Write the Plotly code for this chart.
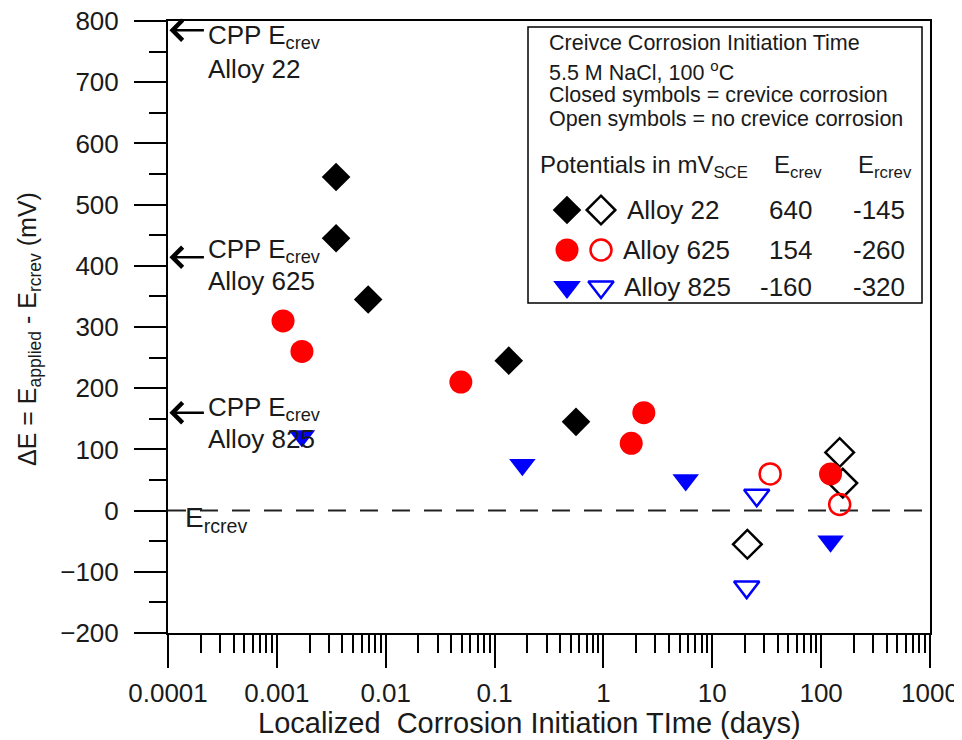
import numpy as np
import plotly.graph_objects as go

# ---------------- data ----------------
alloy22_closed_x = [0.0035, 0.0035, 0.0069, 0.135, 0.56]
alloy22_closed_y = [545, 445, 345, 245, 145]
alloy22_open_x = [21, 148, 158]
alloy22_open_y = [-55, 95, 45]

alloy625_closed_x = [0.00114, 0.0017, 0.049, 1.8, 2.35, 122]
alloy625_closed_y = [310, 260, 210, 110, 160, 60]
alloy625_open_x = [34, 148]
alloy625_open_y = [60, 10]

alloy825_closed_x = [0.0017, 0.18, 5.7, 122]
alloy825_closed_y = [122, 75, 50, -50]
alloy825_open_x = [25.6, 20.7]
alloy825_open_y = [25, -125]

alloy_names = ["Alloy 22", "Alloy 625", "Alloy 825"]
e_crev = [640, 154, -160]
e_rcrev = [-145, -260, -320]

x_tickvals = [1e-4, 1e-3, 1e-2, 1e-1, 1, 10, 100, 1000]
x_ticktext = ["0.0001", "0.001", "0.01", "0.1", "1", "10", "100", "1000"]
y_tickvals = [-200, -100, 0, 100, 200, 300, 400, 500, 600, 700, 800]

FONT = "Liberation Sans, Arial, sans-serif"
TXT = "#1a1a1a"
BLACK = "#000000"
RED = "#ff0000"
BLUE = "#0000ff"

# plot-area frame in screen pixels; the page body adds an 8 px offset
PX_L, PX_R, PX_T, PX_B = 168, 930, 21, 633
W, H = 962, 740
OFF = 8

fig = go.Figure()

def add(x, y, symbol, color, size, open_=False, xa="x", ya="y"):
    if open_:
        marker = dict(symbol=symbol, size=size, color=color,
                      line=dict(color=color, width=2.5))
    else:
        marker = dict(symbol=symbol, size=size, color=color,
                      line=dict(width=0))
    fig.add_trace(go.Scatter(x=x, y=y, mode="markers", marker=marker,
                             xaxis=xa, yaxis=ya, showlegend=False,
                             hoverinfo="skip", cliponaxis=False))

# open symbols first (closed drawn on top)
add(alloy22_open_x, alloy22_open_y, "diamond-open", BLACK, 22, True)
add(alloy625_open_x, alloy625_open_y, "circle-open", RED, 21, True)
add(alloy825_open_x, alloy825_open_y, "triangle-down-open", BLUE, 22, True)
add(alloy22_closed_x, alloy22_closed_y, "diamond", BLACK, 22)
add(alloy625_closed_x, alloy625_closed_y, "circle", RED, 23)
add(alloy825_closed_x, alloy825_closed_y, "triangle-down", BLUE, 23)

# ---------------- legend box (pixel overlay axes) ----------------
row_y = [210, 250, 287]
closed_sym = ["diamond", "circle", "triangle-down"]
open_sym = ["diamond-open", "circle-open", "triangle-down-open"]
closed_size = [22, 23, 24]
open_size = [22, 21, 22]
colors = [BLACK, RED, BLUE]
for i in range(3):
    add([567], [row_y[i]], closed_sym[i], colors[i], closed_size[i],
        False, "x2", "y2")
    add([601], [row_y[i]], open_sym[i], colors[i], open_size[i],
        True, "x2", "y2")

minor_vals = [m * 10.0 ** e for e in range(-4, 3) for m in range(2, 10)]

annotations = []

def txt(x, y, text, size, xanchor="left", yanchor="middle", angle=0):
    annotations.append(dict(x=x, y=y, xref="x2", yref="y2", text=text,
                            showarrow=False, xanchor=xanchor, yanchor=yanchor,
                            textangle=angle,
                            font=dict(family=FONT, size=size, color=TXT)))

def ptxt(px, py, text, size, xanchor="center", angle=0):
    annotations.append(dict(x=(px - PX_L) / (PX_R - PX_L),
                            y=(PX_B - py) / (PX_B - PX_T),
                            xref="paper", yref="paper", text=text,
                            showarrow=False, xanchor=xanchor, yanchor="middle",
                            textangle=angle,
                            font=dict(family=FONT, size=size, color=TXT)))

# legend texts
txt(547, 43, "Creivce Corrosion Initiation Time", 21.5)
txt(547, 71, "5.5 M NaCl, 100 <sup>o</sup>C", 21.5)
txt(547, 95, "Closed symbols = crevice corrosion", 21.5)
txt(547, 119, "Open symbols = no crevice corrosion", 21.5)
txt(538, 166, "Potentials in mV<sub>SCE</sub>", 24)
txt(772, 166, "E<sub>crev</sub>", 24)
txt(856, 166, "E<sub>rcrev</sub>", 24)
name_x = [625, 621, 622]
for i in range(3):
    txt(name_x[i], row_y[i], alloy_names[i], 26)
    txt(814, row_y[i], str(e_crev[i]), 26, xanchor="right")
    txt(907, row_y[i], str(e_rcrev[i]), 26, xanchor="right")

# CPP annotations
cpp_text_y = [36, 250, 408]
alloy_text_y = [69, 281, 439]
for i in range(3):
    annotations.append(dict(x=np.log10(1.03e-4), y=e_crev[i] - e_rcrev[i],
                            xref="x", yref="y", ax=36, ay=0,
                            text="", showarrow=True, arrowhead=4,
                            arrowsize=1.5, arrowwidth=2.6, arrowcolor=BLACK,
                            standoff=0))
    txt(206, cpp_text_y[i], "CPP E<sub>crev</sub>", 26)
    txt(206, alloy_text_y[i], alloy_names[i], 26)

txt(183, 519, "E<sub>rcrev</sub>", 28)

# axis titles (outside the plot area -> paper coordinates)
ptxt(29, 329, "ΔE = E<sub>applied</sub> - E<sub>rcrev</sub> (mV)", 25,
     angle=-90)
ptxt(529, 723, "Localized\u00a0 Corrosion Initiation TIme (days)", 29)

shapes = [
    dict(type="line", xref="paper", yref="y", x0=0, x1=1, y0=0, y1=0,
         line=dict(color="#222222", width=2, dash="18px,14px"), layer="below"),
    dict(type="rect", xref="x2", yref="y2", x0=528, x1=922, y0=27, y1=303,
         line=dict(color=BLACK, width=1.5), fillcolor="rgba(0,0,0,0)"),
]

fig.update_layout(
    width=W, height=H,
    margin=dict(l=PX_L - OFF, r=W - PX_R + OFF, t=PX_T - OFF,
                b=H - PX_B + OFF, pad=0),
    paper_bgcolor="white", plot_bgcolor="white",
    showlegend=False,
    font=dict(family=FONT, color=TXT),
    xaxis=dict(type="log", range=[-4, 3], showline=True, linecolor=BLACK,
               linewidth=2, mirror=True, ticks="outside", ticklen=33,
               tickwidth=1.5, tickcolor=BLACK, tickmode="array",
               tickvals=x_tickvals, ticktext=x_ticktext,
               tickfont=dict(size=26, family=FONT, color=TXT),
               ticklabelstandoff=3, ticklabeloverflow="allow",
               automargin=False, showgrid=False, zeroline=False,
               minor=dict(tickmode="array", tickvals=minor_vals,
                          ticks="outside", ticklen=18, tickwidth=1.5,
                          tickcolor=BLACK, showgrid=False)),
    yaxis=dict(range=[-200, 800], showline=True, linecolor=BLACK,
               linewidth=2, mirror=True, ticks="outside", ticklen=32,
               tickwidth=1.5, tickcolor=BLACK, tickmode="array",
               tickvals=y_tickvals,
               tickfont=dict(size=26, family=FONT, color=TXT),
               ticklabelstandoff=10, ticklabeloverflow="allow",
               automargin=False, showgrid=False, zeroline=False,
               minor=dict(dtick=50, tick0=0, ticks="outside", ticklen=17,
                          tickwidth=1.5, tickcolor=BLACK, showgrid=False)),
    xaxis2=dict(overlaying="x", anchor="y2", range=[PX_L, PX_R],
                visible=False, automargin=False),
    yaxis2=dict(overlaying="y", anchor="x2", range=[PX_B, PX_T],
                visible=False, automargin=False),
    annotations=annotations,
    shapes=shapes,
)

fig.write_html("out.html")
